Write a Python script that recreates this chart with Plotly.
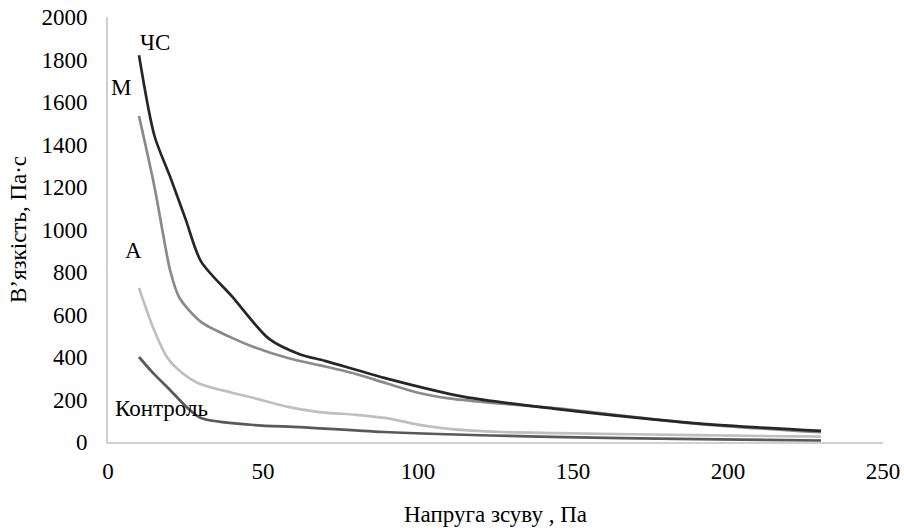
import plotly.graph_objects as go

# --- data ---
chs_x = [10, 15, 20, 25, 30, 40, 52, 62, 70, 90, 115, 145, 190, 230]
chs_y = [1820, 1440, 1250, 1050, 850, 685, 485, 412, 382, 298, 212, 155, 88, 52]

m_x = [10, 15, 17.5, 20, 23, 30, 40, 47, 58, 68, 80, 90, 100, 110, 125, 145, 190, 230]
m_y = [1534, 1200, 1000, 810, 680, 565, 490, 447, 395, 362, 320, 275, 232, 205, 183, 158, 85, 46]

a_x = [10, 14.5, 19, 22, 29, 40, 47, 58, 68, 80, 90, 100, 110, 127, 145, 190, 230]
a_y = [725, 540, 400, 350, 278, 232, 207, 165, 141, 128, 112, 82, 62, 47, 42, 32, 25]

k_x = [10, 14.5, 20, 25, 30, 47, 62, 89, 143, 190, 230]
k_y = [400, 325, 245, 170, 113, 80, 70, 47, 24, 14, 7]

series = [
    ("Контроль", k_x, k_y, "#595959"),
    ("А", a_x, a_y, "#bfbfbf"),
    ("М", m_x, m_y, "#8a8a8a"),
    ("ЧС", chs_x, chs_y, "#262626"),
]

labels = [
    ("ЧС", 15.2, 1882),
    ("М", 4.2, 1670),
    ("А", 8.1, 903),
    ("Контроль", 17.4, 160),
]

x_ticks = [0, 50, 100, 150, 200, 250]
y_ticks = [0, 200, 400, 600, 800, 1000, 1200, 1400, 1600, 1800, 2000]

FONT = "Liberation Serif, Times New Roman, serif"

fig = go.Figure()
for name, xs, ys, col in series:
    fig.add_trace(go.Scatter(
        x=xs, y=ys, mode="lines", name=name,
        line=dict(color=col, width=2.7, shape="spline", smoothing=0.8),
        showlegend=False,
    ))

for txt, lx, ly in labels:
    fig.add_annotation(x=lx, y=ly, xref="x", yref="y", text=txt,
                       showarrow=False, font=dict(family=FONT, size=23, color="black"))

fig.update_layout(
    width=904, height=530,
    margin=dict(l=108, r=21, t=17, b=88),
    paper_bgcolor="white", plot_bgcolor="white",
    font=dict(family=FONT, size=23, color="black"),
)
fig.update_xaxes(
    range=[0, 250], tickvals=x_ticks, showgrid=False, zeroline=False,
    showline=True, linecolor="#d0d0d0", linewidth=2, ticks="",
    ticklabelstandoff=7, automargin=False,
    title=dict(text="Напруга зсуву , Па", standoff=23, font=dict(size=23)),
)
fig.update_yaxes(
    range=[0, 2000], tickvals=y_ticks, showgrid=False, zeroline=False,
    showline=True, linecolor="#d0d0d0", linewidth=2, ticks="",
    ticklabelstandoff=14, automargin=False,
    title=dict(text="В’язкість, Па·с", standoff=8, font=dict(size=23)),
)

fig.write_html("out.html",
               config={"displayModeBar": False},
               post_script="document.body.style.margin='0';document.body.style.overflow='hidden';")
